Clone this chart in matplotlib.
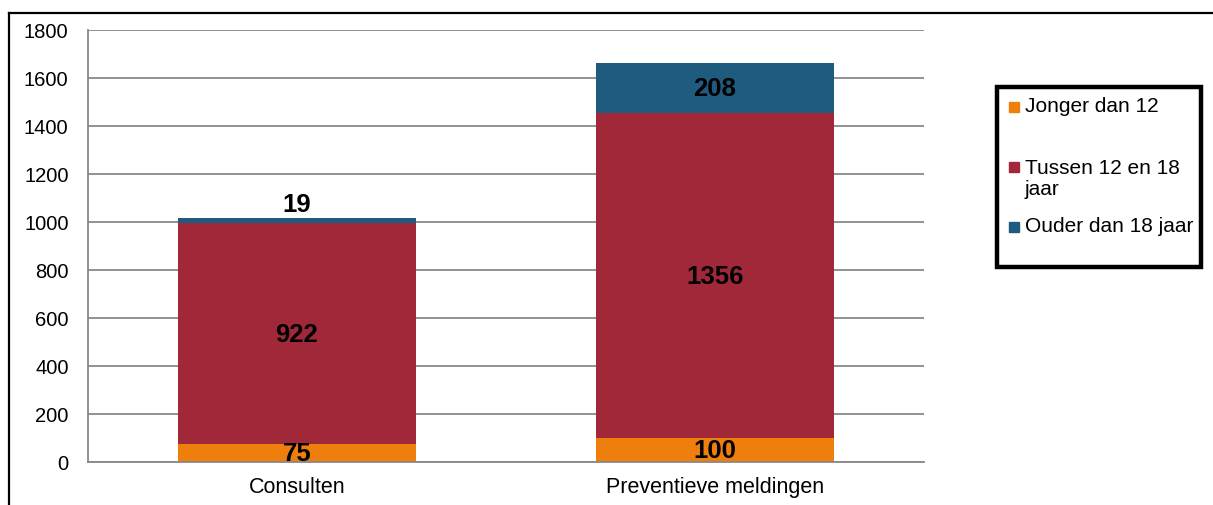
import matplotlib
matplotlib.use("Agg")
import matplotlib.pyplot as plt
from matplotlib.patches import Rectangle
from matplotlib.lines import Line2D
import numpy as np

plt.rcParams['font.family'] = ['Liberation Sans', 'DejaVu Sans']

categories = ["Consulten", "Preventieve meldingen"]
series_names = ["Jonger dan 12", "Tussen 12 en 18\njaar", "Ouder dan 18 jaar"]
jonger = [75, 100]
tussen = [922, 1356]
ouder = [19, 208]
colors = ["#EF7F0C", "#A02838", "#1F5B7E"]
yticks = [0, 200, 400, 600, 800, 1000, 1200, 1400, 1600, 1800]

W, H = 1213, 505
fig = plt.figure(figsize=(W / 100, H / 100), dpi=100)
ax = fig.add_axes([88 / W, 1 - 462 / H, (924 - 88) / W, (462 - 30) / H])

x = np.arange(len(categories))
bottom = np.zeros(len(categories))
for vals, col in zip([jonger, tussen, ouder], colors):
    vals = np.array(vals, dtype=float)
    ax.bar(x, vals, width=0.57, bottom=bottom, color=col, zorder=2)
    for xi, b, v in zip(x, bottom, vals):
        off = 11 if v < 50 else -1
        ax.annotate(f"{int(v)}", xy=(xi, b + v / 2), xytext=(0, off),
                    textcoords="offset points", ha="center", va="center",
                    fontsize=18.5, fontweight="bold", color="black", zorder=3)
    bottom += vals

ax.set_xlim(-0.5, 1.5)
ax.set_ylim(0, 1800)
ax.set_yticks(yticks)
ax.set_yticklabels([str(t) for t in yticks], fontsize=14.5)
ax.tick_params(axis="y", length=0, pad=14)
ax.set_xticks(x)
ax.set_xticklabels(categories, fontsize=15.5)
ax.tick_params(axis="x", length=0, pad=11)
ax.grid(axis="y", color="#888888", linewidth=1.3, zorder=1)
for s in ["top", "right"]:
    ax.spines[s].set_visible(False)
ax.spines["left"].set_color("#888888")
ax.spines["left"].set_linewidth(1.3)
ax.spines["bottom"].set_color("#888888")
ax.spines["bottom"].set_linewidth(1.3)

# outer chart border (top and left)
fig.add_artist(Line2D([9 / W, 1.0], [1 - 13 / H, 1 - 13 / H], color="black", lw=1.6, transform=fig.transFigure))
fig.add_artist(Line2D([9 / W, 9 / W], [0, 1 - 13 / H], color="black", lw=1.6, transform=fig.transFigure))

# legend box
fig.add_artist(Rectangle((997 / W, 1 - 267 / H), (1201 - 997) / W, (267 - 87) / H,
                         transform=fig.transFigure, fill=False, edgecolor="black", lw=3.2))
legend_y = [107, 179, 227]
for name, col, yy in zip(series_names, colors, legend_y):
    sq_y = yy - 12 if "\n" in name else yy
    fig.add_artist(Rectangle((1009 / W, 1 - (sq_y + 5) / H), 10 / W, 10 / H,
                             transform=fig.transFigure, color=col))
    fig.text(1025 / W, 1 - yy / H, name, ha="left", va="center", fontsize=15,
             linespacing=1.1)

fig.savefig("out.png", dpi=100)
